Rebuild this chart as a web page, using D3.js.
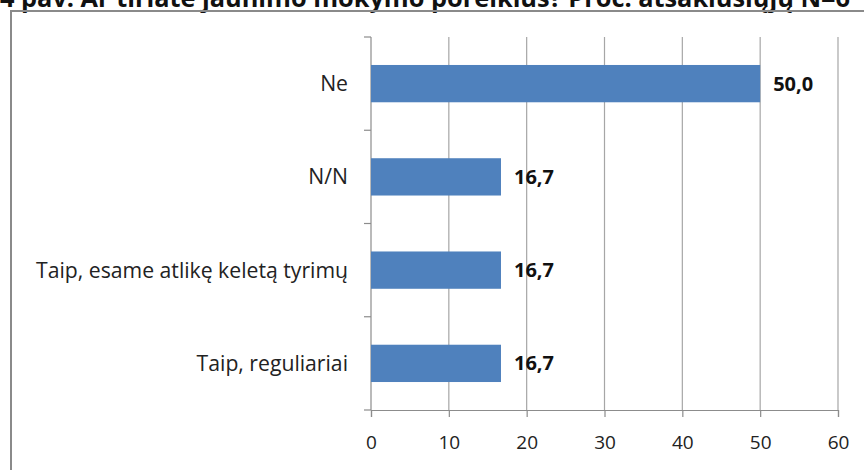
<!DOCTYPE html>
<html>
<head>
<meta charset="utf-8">
<script src="https://cdn.jsdelivr.net/npm/d3@7"></script>
<style>
  body { margin: 0; background: #fff; }
  svg { display: block; }
</style>
</head>
<body>
<div id="chart"></div>
<script>
// data
var categories = ["Ne", "N/N", "Taip, esame atlikę keletą tyrimų", "Taip, reguliariai"];
var values = [50.0, 16.7, 16.7, 16.7];
var xTicks = [0, 10, 20, 30, 40, 50, 60];
var title = "4 pav. Ar tiriate jaunimo mokymo poreikius? Proc. atsakiusiųjų N=6";

var W = 864, H = 470;
var margin = {left: 371, right: 26, top: 37, bottom: 60};
var width = W - margin.left - margin.right,
    height = H - margin.top - margin.bottom;

var font = "'Open Sans', sans-serif";

var svg = d3.select("#chart")
    .append("svg")
        .attr("width", W)
        .attr("height", H);

// title, partly cut off by the top of the page (as in the original)
svg.append("text")
    .attr("x", 0)
    .attr("y", 7)
    .attr("font-family", font)
    .attr("font-size", 25)
    .attr("font-weight", "bold")
    .attr("fill", "#111")
    .attr("textLength", 850)
    .attr("lengthAdjust", "spacingAndGlyphs")
    .text(title);

// chart frame
svg.append("rect")
    .attr("x", 11)
    .attr("y", 11)
    .attr("width", W + 20)
    .attr("height", H + 20)
    .attr("fill", "none")
    .attr("stroke", "#8a8a8a")
    .attr("stroke-width", 2);

var g = svg.append("g")
    .attr("transform", "translate(" + margin.left + "," + margin.top + ")");

var x = d3.scaleLinear()
    .domain([0, 60])
    .range([0, width]);

var y = d3.scaleBand()
    .domain(categories)
    .range([0, height])
    .paddingInner(0.6)
    .paddingOuter(0.3);

// gridlines
g.append("g")
    .selectAll("line")
    .data(xTicks.slice(1))
    .enter()
    .append("line")
    .attr("x1", function(d) { return x(d); })
    .attr("x2", function(d) { return x(d); })
    .attr("y1", 0)
    .attr("y2", height)
    .attr("stroke", "#a6a6a6")
    .attr("stroke-width", 1.2);

// x axis
var xAxis = g.append("g")
    .attr("transform", "translate(0," + height + ")")
    .call(d3.axisBottom(x).tickValues(xTicks).tickSize(7).tickPadding(19));
xAxis.select(".domain").attr("stroke", "#8c8c8c").attr("stroke-width", 1.2);
xAxis.selectAll("line").attr("stroke", "#8c8c8c").attr("stroke-width", 1.2);
xAxis.selectAll("text")
    .attr("font-family", font)
    .attr("font-size", 19)
    .attr("fill", "#222");

// y axis: ticks at category boundaries
var step = height / categories.length;
var bounds = d3.range(categories.length + 1).map(function(i) { return i * step; });
g.append("line")
    .attr("x1", 0).attr("x2", 0)
    .attr("y1", 0).attr("y2", height)
    .attr("stroke", "#8c8c8c")
    .attr("stroke-width", 1.2);
g.append("g")
    .selectAll("line")
    .data(bounds)
    .enter()
    .append("line")
    .attr("x1", -7).attr("x2", 0)
    .attr("y1", function(d) { return d; })
    .attr("y2", function(d) { return d; })
    .attr("stroke", "#8c8c8c")
    .attr("stroke-width", 1.2);

// category labels
g.append("g")
    .selectAll("text")
    .data(categories)
    .enter()
    .append("text")
    .attr("x", -23)
    .attr("y", function(d) { return y(d) + y.bandwidth() / 2; })
    .attr("dy", "0.35em")
    .attr("text-anchor", "end")
    .attr("font-family", font)
    .attr("font-size", 21.2)
    .attr("fill", "#222")
    .text(function(d) { return d; });

// bars
var rows = categories.map(function(c, i) { return {cat: c, value: values[i]}; });
g.append("g")
    .selectAll("rect")
    .data(rows)
    .enter()
    .append("rect")
    .attr("x", 0)
    .attr("y", function(d) { return y(d.cat); })
    .attr("width", function(d) { return x(d.value); })
    .attr("height", y.bandwidth())
    .attr("fill", "#4f81bd");

// value labels
g.append("g")
    .selectAll("text")
    .data(rows)
    .enter()
    .append("text")
    .attr("x", function(d) { return x(d.value) + 13; })
    .attr("y", function(d) { return y(d.cat) + y.bandwidth() / 2; })
    .attr("dy", "0.35em")
    .attr("font-family", font)
    .attr("font-size", 20)
    .attr("font-weight", "bold")
    .attr("fill", "#111")
    .text(function(d) { return d.value.toFixed(1).replace(".", ","); });
</script>
</body>
</html>
